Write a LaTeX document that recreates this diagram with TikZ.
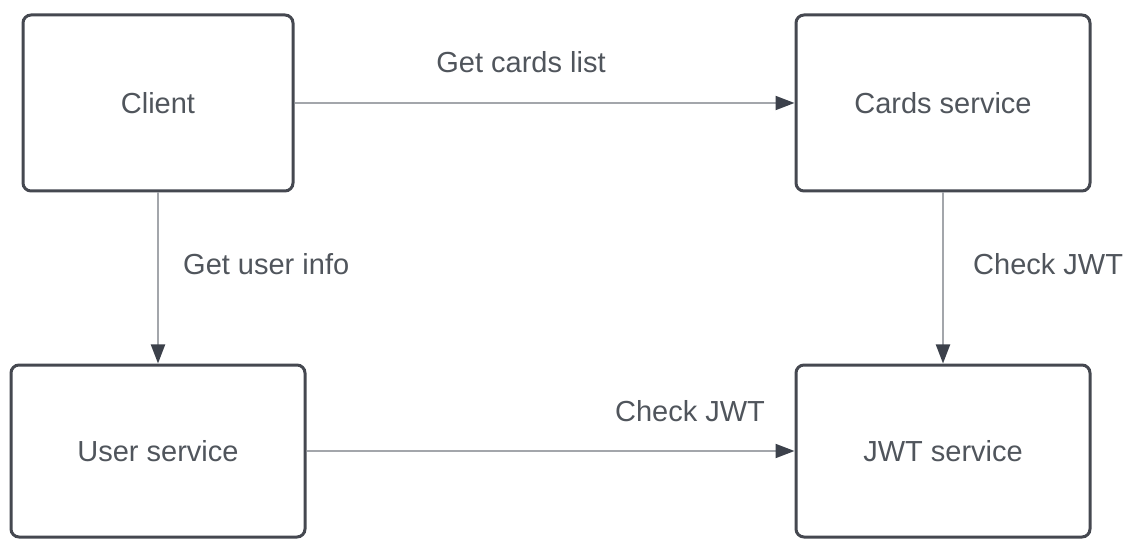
\documentclass[tikz,border=0pt]{standalone}
\usepackage{fontspec}
\setmainfont{Liberation Sans}
\usetikzlibrary{positioning}
\usetikzlibrary{arrows.meta}
\definecolor{boxline}{HTML}{454850}
\definecolor{arrline}{HTML}{A3A6AB}
\definecolor{arrhead}{HTML}{3C414B}
\definecolor{txtgray}{HTML}{50555C}
\tikzset{
    svc/.style = {rectangle, rounded corners=8pt, line width=3pt, draw=boxline, fill=white, align=center, minimum width=294pt, minimum height=174pt, text=txtgray},
    lbl/.style = {text=txtgray, inner sep=0pt},
    edgen/.style = {-{Triangle[length=19pt,width=14pt,color=arrhead]}, line width=2pt, draw=arrline},
    every picture/.style={font issue=\fontsize{29}{34}},
    font issue/.style={execute at begin picture={#1\selectfont}
  }
}
\begin{document}
\begin{tikzpicture}[x=1pt,y=1pt]
\useasboundingbox (0,0) rectangle (1128,539);
\node[svc, minimum width=270pt, minimum height=176pt] at (158, 436) (client) {Client};
\node[svc, minimum height=176pt] at (943, 436) (cards) {Cards service};
\node[svc, minimum height=172pt] at (158, 88) (user) {User service};
\node[svc, minimum height=172pt] at (943, 88) (jwt) {JWT service};
%
\draw[edgen] (client) -- (cards);
\draw[edgen] (client) -- (user);
\draw[edgen] (cards) -- (jwt);
\draw[edgen] (user) -- (jwt);
%
\node[lbl] at (521, 477) (lcards) {Get cards list};
\node[lbl, anchor=west] at (183, 275) (luser) {Get user info};
\node[lbl, anchor=west] at (973, 275) (ljwta) {Check JWT};
\node[lbl] at (690, 128) (ljwtb) {Check JWT};

\end{tikzpicture}
\end{document}
